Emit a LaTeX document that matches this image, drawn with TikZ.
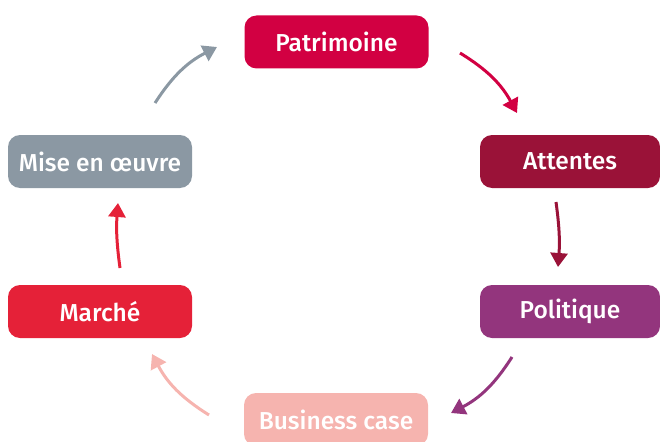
\documentclass[tikz,border=0pt]{standalone}
\usepackage{fontspec}
\setmainfont{Fira Sans}[UprightFont=* Medium]
\usetikzlibrary{arrows.meta}
\definecolor{patcol}{HTML}{D20042}
\definecolor{attcol}{HTML}{9A1238}
\definecolor{polcol}{HTML}{93357D}
\definecolor{buscol}{HTML}{F6B4AF}
\definecolor{marcol}{HTML}{E52138}
\definecolor{misecol}{HTML}{8B98A3}
\begin{document}
\begin{tikzpicture}[x=1pt, y=-1pt,
    box/.style={rounded corners=12pt, minimum width=184pt, minimum height=53pt,
        inner sep=0pt, text=white, font=\fontsize{24.5}{28}\selectfont},
    arr/.style={line width=3pt, -{Triangle[width=17pt,length=14pt]}}]

    \useasboundingbox (0,0) rectangle (660,441);

    \node[box, fill=patcol] (1) at (336.5,42) {Patrimoine};

    \node[box, fill=attcol, minimum width=180pt] (2) at (570,161.5) {Attentes};

    \node[box, fill=polcol, minimum width=180pt] (3) at (570,311.5) {Politique};

    \node[box, fill=buscol] (4) at (336,419.5) {Business case};

    \node[box, fill=marcol] (5) at (100,311.5) {Marché};

    \node[box, fill=misecol] (6) at (100,161.5) {Mise en œuvre};

    % arrow ends
    \coordinate (s1) at (460,53);  \coordinate (e1) at (517,113);
    \coordinate (s2) at (556,202); \coordinate (e2) at (558,267);
    \coordinate (s3) at (512,357); \coordinate (e3) at (451,413);
    \coordinate (s4) at (209,415); \coordinate (e4) at (152,354);
    \coordinate (s5) at (120,268); \coordinate (e5) at (118,203);
    \coordinate (s6) at (155,103); \coordinate (e6) at (217,47);

    \draw[arr, patcol] (s1) to[bend left=15] (e1);
    \draw[arr, attcol] (s2) to[bend left=6] (e2);
    \draw[arr, polcol] (s3) to[bend left=15] (e3);
    \draw[arr, buscol] (s4) to[bend left=15] (e4);
    \draw[arr, marcol] (s5) to[bend left=6] (e5);
    \draw[arr, misecol] (s6) to[bend left=15] (e6);

\end{tikzpicture}
\end{document}
